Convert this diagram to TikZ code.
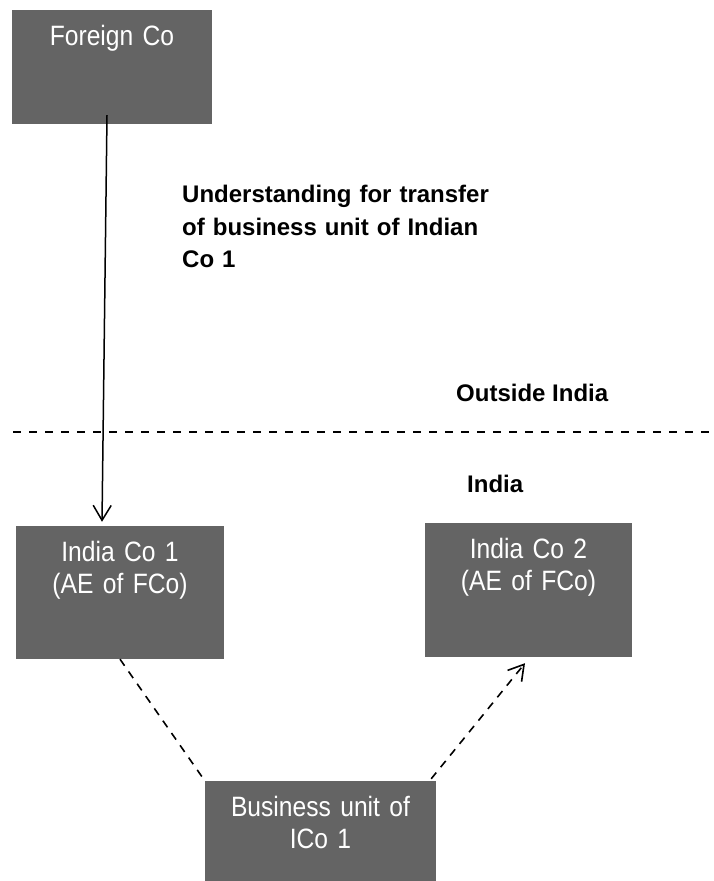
\documentclass[tikz,border=0pt]{standalone}
\usepackage{fontspec}
\setmainfont{Liberation Sans}
\newfontfamily\boxfont[FakeStretch=0.88]{Liberation Sans}
\usetikzlibrary{positioning,arrows.meta}
\definecolor{boxgray}{RGB}{100,100,100}
\tikzstyle{entity}=[fill=boxgray, text=white, inner sep=0pt, align=center,
    font=\boxfont\fontsize{28}{32}\selectfont, text height=36pt]
\tikzstyle{note}=[inner sep=0pt, anchor=base west, align=left,
    font=\fontsize{24}{32.5}\selectfont\bfseries]
\tikzstyle{link}=[line width=1.5pt]
\tikzstyle{border}=[line width=1.8pt, dash pattern=on 8pt off 8pt]
\tikzstyle{flow}=[line width=1.6pt, dash pattern=on 8pt off 7pt]
\def\tipsize{length=15pt,width=18pt}

\begin{document}
\begin{tikzpicture}[x=1pt,y=1pt]
    \useasboundingbox (0,0) rectangle (713,881);
	% Define the nodes in the picture
	\node (fco) [entity, text width=200pt, text depth=78pt] at (112,814) {Foreign Co};
	\node (ico1) [entity, text width=208pt, text depth=97pt, below of=fco,
	    node distance=525.5pt, xshift=8pt] {India Co 1\\(AE of FCo)};
	\node (ico2) [entity, text width=207pt, text depth=98pt, right of=ico1,
	    node distance=408.5pt, yshift=2.5pt] {India Co 2\\(AE of FCo)};
	\node (bunit) [entity, text width=231pt, text depth=74pt, below of=ico1,
	    node distance=243.5pt, xshift=200.5pt] {Business unit of\\ICo 1};
	\node (deal) [note, text width=330pt] at (182,678)
	    {Understanding for transfer\\of business unit of Indian\\Co 1};
	\node (outside) [note] at (456,479) {Outside India};
	\node (inside) [note] at (467,388) {India};
	\coordinate (border_l) at (13,449);
	\coordinate (border_r) at (713,449);

	% Define the edges in the picture
	\draw [border] (border_l) -- (border_r);
	\draw [link, -{Straight Barb[\tipsize]}] ([xshift=-5pt,yshift=9pt]fco.south)
	    -- ([xshift=-18pt,yshift=4pt]ico1.north);
	\draw [flow] (ico1.south) -- (bunit.north west);
	\draw [flow, -{Straight Barb[\tipsize]}] ([xshift=-5pt,yshift=2pt]bunit.north east)
	    -- ([xshift=-3.5pt,yshift=-6pt]ico2.south);
\end{tikzpicture}
\end{document}
